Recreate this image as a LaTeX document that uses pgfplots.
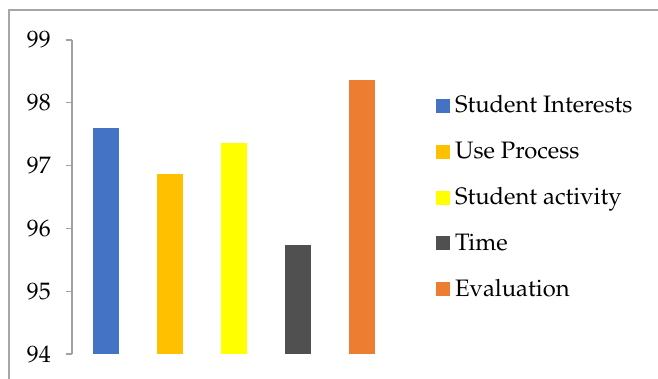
\documentclass[border=0pt]{standalone}
\usepackage[T1]{fontenc}
\usepackage{mathpazo}
\usepackage{pgfplots}
\pgfplotsset{compat=1.18}
\definecolor{cblue}{HTML}{4472C4}
\definecolor{cgold}{HTML}{FFC000}
\definecolor{cyel}{HTML}{FFFF00}
\definecolor{cdark}{HTML}{505050}
\definecolor{corange}{HTML}{ED7D31}
\definecolor{axgray}{HTML}{A0A0A0}
\definecolor{framegray}{HTML}{A6A6A6}
\begin{document}
\begin{tikzpicture}
\useasboundingbox (-72bp,-25bp) rectangle (586bp,354bp);
\begin{axis}[
  at={(0,0)}, anchor=south west,
  scale only axis, width=324bp, height=314bp,
  ybar, bar width=26bp, bar shift=0pt,
  xmin=-0.531, xmax=4.531,
  ymin=94, ymax=99, ytick={94,95,96,97,98,99},
  axis x line=none, axis y line*=left,
  y axis line style={draw=axgray, line width=1.2bp},
  ytick style={draw=axgray, line width=1.2bp},
  tick align=outside, major tick length=6bp,
  yticklabel style={font=\fontsize{23.8bp}{28bp}\selectfont, anchor=east, inner sep=0pt, xshift=-15bp},
  legend style={at={(1.1235,0.8217)}, anchor=north west, draw=none, fill=none,
    inner sep=0pt, outer sep=0pt, row sep=23.8bp,
    nodes={inner sep=0pt, text height=17bp, text depth=5bp, anchor=base west},
    font=\fontsize{23.8bp}{28bp}\selectfont},
  legend cell align=left,
  legend image code/.code={\fill[#1,draw=none] (0bp,0bp) rectangle (14bp,14bp); \path (19bp,0bp);},
]
\addplot[fill=cblue, draw=none] coordinates {(0,97.60)};
\addplot[fill=cgold, draw=none] coordinates {(1,96.87)};
\addplot[fill=cyel, draw=none] coordinates {(2,97.36)};
\addplot[fill=cdark, draw=none] coordinates {(3,95.73)};
\addplot[fill=corange, draw=none] coordinates {(4,98.36)};
\legend{Student Interests, Use Process, Student activity, Time, Evaluation}
\end{axis}
\draw[framegray, line width=1.5bp] (586bp,344bp) -- (-63bp,344bp) -- (-63bp,-25bp);
\end{tikzpicture}
\end{document}
